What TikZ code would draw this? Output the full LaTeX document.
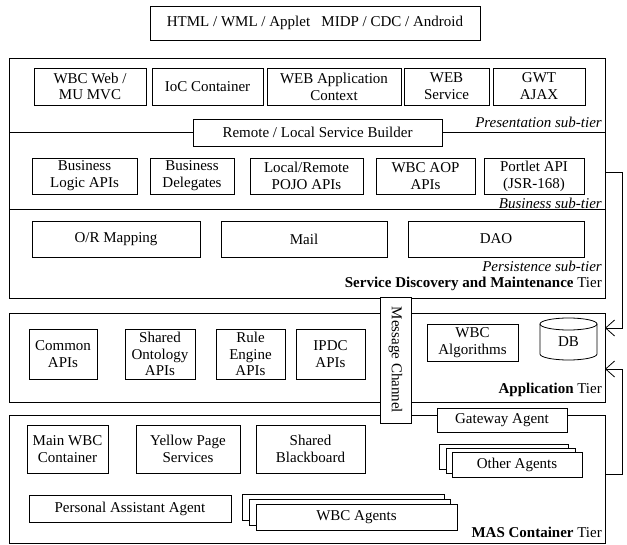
\documentclass[tikz,border=0pt]{standalone}
\usepackage{fontspec}
\setmainfont{Liberation Serif}
\usetikzlibrary{arrows.meta}
% \mybox{name}{x1}{y1}{x2}{y2}{text}: a framed box given by its corners
\newcommand\mybox[6]{\node[box, minimum width={(#4)-(#2)}, minimum height={(#5)-(#3)}] (#1) at ({((#2)+(#4))/2},{((#3)+(#5))/2}) {#6};}
\begin{document}
\begin{tikzpicture}[x=1pt,y=-1pt,
  font=\fontsize{15}{16.8}\selectfont,
  box/.style={draw, line width=0.8pt, inner sep=0pt, outer sep=0pt, align=center, fill=white},
  lbl/.style={anchor=east, inner sep=0pt},
  arr/.style={line width=0.8pt, -{Straight Barb[length=9pt,width=16pt]}}]
\useasboundingbox (0,0) rectangle (627,545);

% client technologies
\mybox{top}{150}{6}{480}{40}{HTML / WML / Applet\ \ \ MIDP / CDC / Android}

% ---------- Service Discovery and Maintenance tier ----------
\mybox{sdm}{9}{58}{605}{298}{}
\mybox{p1}{34}{68}{146}{105}{WBC Web /\\MU MVC}
\mybox{p2}{152}{68}{263}{105}{IoC Container}
\mybox{p3}{267}{68}{401}{105}{WEB Application\\Context}
\mybox{p4}{404}{68}{489}{105}{WEB\\Service}
\mybox{p5}{493}{68}{585}{105}{GWT\\AJAX}
\node[lbl] (lpres) at (602,122) {\itshape Presentation sub-tier};

\mybox{remote}{193}{119}{442}{146}{Remote / Local Service Builder}
\draw[line width=0.8pt] (sdm.west |- remote) -- (remote.west);
\draw[line width=0.8pt] (remote.east) -- (sdm.east |- remote);

\mybox{b1}{32}{158}{137}{194}{Business\\Logic APIs}
\mybox{b2}{150}{158}{234}{194}{Business\\Delegates}
\mybox{b3}{250}{158}{363}{194}{Local/Remote\\POJO APIs}
\mybox{b4}{376}{158}{475}{194}{WBC AOP\\APIs}
\mybox{b5}{484}{158}{584}{194}{Portlet API\\(JSR-168)}
\node[lbl] (lbus) at (602,203) {\itshape Business sub-tier};

\coordinate (sep2) at (0,209);
\draw[line width=0.8pt] (sdm.west |- sep2) -- (sdm.east |- sep2);

\mybox{o1}{32}{221}{200}{257}{O/R Mapping}
\mybox{o2}{221}{221}{387}{257}{Mail}
\mybox{o3}{408}{221}{584}{257}{DAO}
\node[lbl] (lper) at (602,266) {\itshape Persistence sub-tier};
\node[lbl] (lsdm) at (602,284) {\textbf{Service Discovery and Maintenance} Tier};

% ---------- Application tier ----------
\mybox{app}{9}{313}{605}{402}{}
\mybox{a1}{29}{329}{97}{379}{Common\\APIs}
\mybox{a2}{125}{329}{195}{379}{Shared\\Ontology\\APIs}
\mybox{a3}{216}{329}{285}{379}{Rule\\Engine\\APIs}
\mybox{a4}{296}{329}{365}{379}{IPDC\\APIs}
\mybox{a5}{427}{324}{518}{361}{WBC\\Algorithms}
% database cylinder
\draw[line width=0.8pt] (540,324) -- (540,354)
  arc[start angle=180, end angle=360, x radius=28.5pt, y radius=6pt] -- (597,324);
\draw[line width=0.8pt] (568.5,324) ellipse[x radius=28.5pt, y radius=6pt];
\node (db) at (568.5,342) {DB};
\node[lbl] (lapp) at (602,390) {\textbf{Application} Tier};

% ---------- MAS Container tier ----------
\mybox{mas}{9}{415}{605}{543}{}
\node[box, rotate=-90, minimum width=126pt, minimum height=31pt] (mc) at (395.5,360) {Message Channel};
\mybox{gw}{437}{408}{567}{432}{Gateway Agent}
\mybox{m1}{27}{425}{108}{473}{Main WBC\\Container}
\mybox{m2}{136}{425}{240}{473}{Yellow Page\\Services}
\mybox{m3}{256}{425}{365}{473}{Shared\\Blackboard}
% stacked agent boxes
\mybox{oa3}{439}{444}{568}{469}{}
\mybox{oa2}{446}{448}{575}{473}{}
\mybox{oa1}{452}{452}{582}{477}{Other Agents}
\mybox{pa}{29}{495}{231}{522}{Personal Assistant Agent}
\mybox{wa3}{242}{494}{444}{520}{}
\mybox{wa2}{249}{499}{450}{525}{}
\mybox{wa1}{256}{504}{457}{530}{WBC Agents}
\node[lbl] (lmas) at (602,532) {\textbf{MAS Container} Tier};

% ---------- connectors into the application tier ----------
\coordinate (r1) at (622,172);
\coordinate (r2) at (622,474);
\coordinate (t1) at (0,328);
\coordinate (t2) at (0,369);
\draw[arr] (sdm.east |- r1) -- (r1) |- (app.east |- t1);
\draw[arr] (mas.east |- r2) -- (r2) |- (app.east |- t2);
\end{tikzpicture}
\end{document}
